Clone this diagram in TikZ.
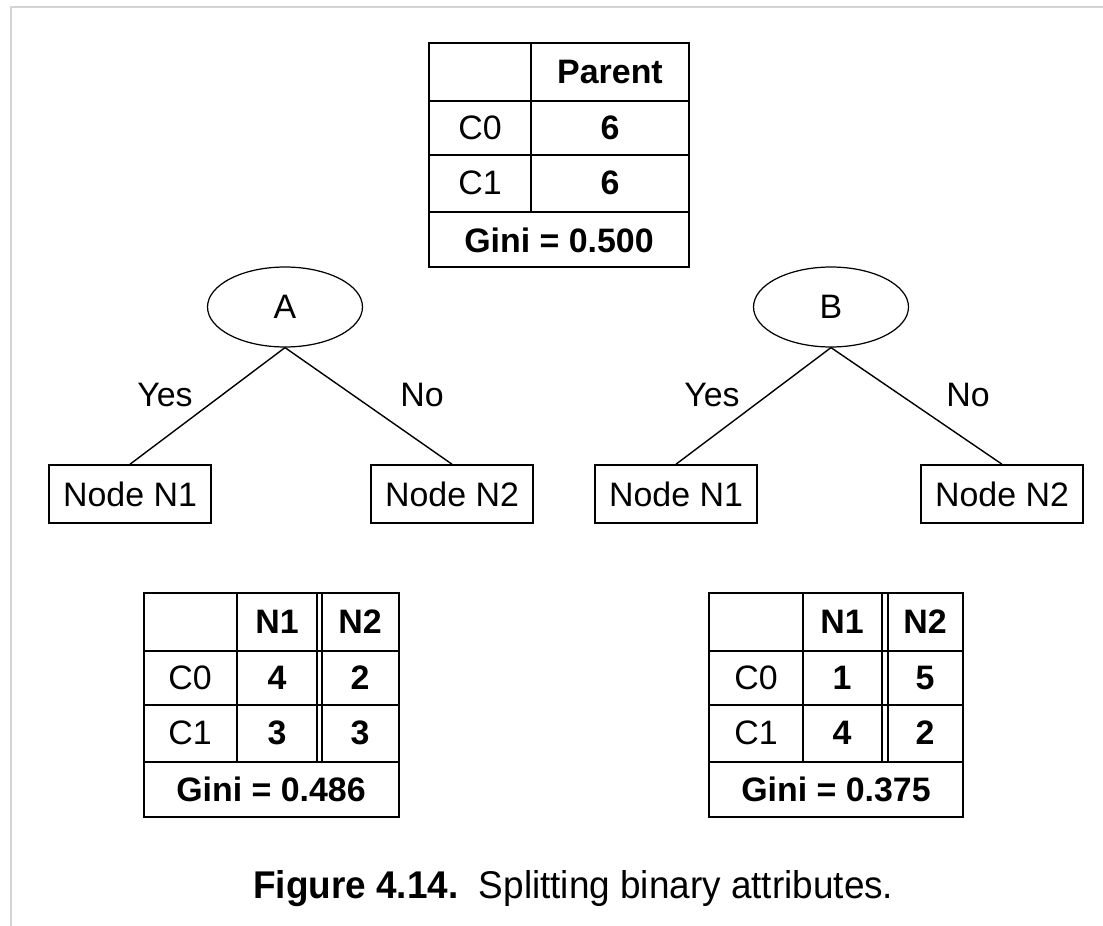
\documentclass[tikz,border=0pt]{standalone}
\usepackage{fontspec}
\setmainfont{Liberation Sans}
\newfontfamily\capfont[FakeStretch=0.955]{Liberation Sans}
\usepackage{tikz}
\usetikzlibrary{shapes}

\tikzset{
  every node/.style={font=\fontsize{19.3}{23}\selectfont},
  attr/.style={ellipse,draw,line width=0.7pt,minimum width=3.1cm,minimum height=1.6cm},
  leaf/.style={rectangle,draw,line width=0.9pt,minimum width=3.25cm,minimum height=1.16cm},
  tabline/.style={line width=1.1pt},
  branch/.style={line width=0.8pt},
  num/.style={font=\fontsize{19.3}{23}\selectfont\bfseries}
}

\begin{document}
\begin{tikzpicture}[x=0.02cm,y=-0.02cm]
    \useasboundingbox (0,0) rectangle (1103,926);
    \draw[black!17,line width=1.1pt] (11,926) -- (11,7) -- (1103,7);

    % parent table
    \draw[tabline] (429,43) rectangle (689,267);
    \draw[tabline] (429,101) -- (689,101) (429,155) -- (689,155) (429,212) -- (689,212);
    \draw[tabline] (531,43) -- (531,212);
    \node[num] (pp) at (610,72) {Parent};
    \node (pc0) at (480,128) {C0};
    \node (pc1) at (480,183) {C1};
    \node[num] (p0) at (610,128) {6};
    \node[num] (p1) at (610,183) {6};
    \node[num] (pg) at (559,240) {Gini = 0.500};

    % split A
    \node[attr] (A) at (285,307) {A};
    \node[leaf] (A1) at (130,494) {Node N1};
    \node[leaf] (A2) at (452,494) {Node N2};
    \draw[branch] (A.south) -- (A1.north);
    \draw[branch] (A.south) -- (A2.north);
    \node (ayes) at (165,395) {Yes};
    \node (ano) at (422,395) {No};

    % split B
    \node[attr] (B) at (831,307) {B};
    \node[leaf] (B1) at (676,494) {Node N1};
    \node[leaf] (B2) at (1002,494) {Node N2};
    \draw[branch] (B.south) -- (B1.north);
    \draw[branch] (B.south) -- (B2.north);
    \node (byes) at (712,395) {Yes};
    \node (bno) at (968,395) {No};

    % table for A
    \draw[tabline] (144,593) rectangle (399,817);
    \draw[tabline] (144,651) -- (399,651) (144,705) -- (399,705) (144,762) -- (399,762);
    \draw[tabline] (237,593) -- (237,762) (317,593) -- (317,762) (322,593) -- (322,762);
    \node[num] (an1) at (277,622) {N1};
    \node[num] (an2) at (360,622) {N2};
    \node (ac0) at (190,678) {C0};
    \node (ac1) at (190,733) {C1};
    \node[num] (a01) at (277,678) {4};
    \node[num] (a02) at (360,678) {2};
    \node[num] (a11) at (277,733) {3};
    \node[num] (a12) at (360,733) {3};
    \node[num] (ag) at (271,789) {Gini = 0.486};

    % table for B
    \draw[tabline] (709,593) rectangle (963,817);
    \draw[tabline] (709,651) -- (963,651) (709,705) -- (963,705) (709,762) -- (963,762);
    \draw[tabline] (803,593) -- (803,762) (882,593) -- (882,762) (888,593) -- (888,762);
    \node[num] (bn1) at (842,622) {N1};
    \node[num] (bn2) at (925,622) {N2};
    \node (bc0) at (756,678) {C0};
    \node (bc1) at (756,733) {C1};
    \node[num] (b01) at (842,678) {1};
    \node[num] (b02) at (925,678) {5};
    \node[num] (b11) at (842,733) {4};
    \node[num] (b12) at (925,733) {2};
    \node[num] (bg) at (836,789) {Gini = 0.375};

    \node[anchor=base west,font=\capfont\fontsize{22}{26}\selectfont] (caption) at (247,898)
        {\textbf{Figure 4.14.}\ \ Splitting binary attributes.};
\end{tikzpicture}
\end{document}
